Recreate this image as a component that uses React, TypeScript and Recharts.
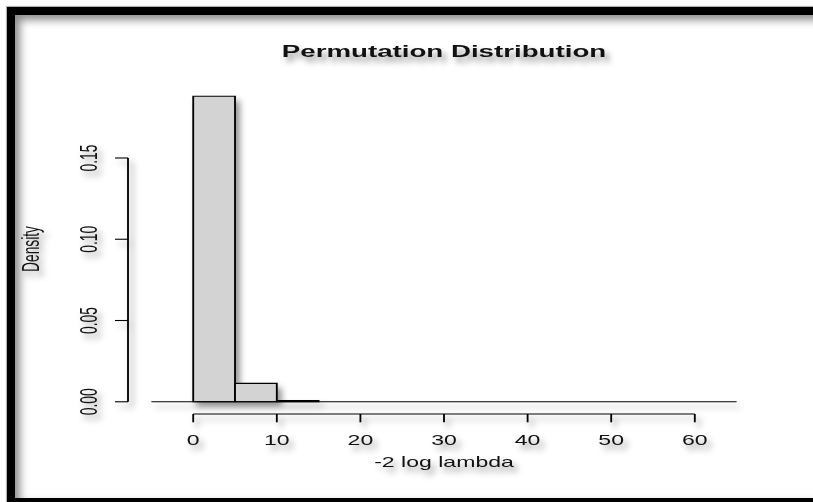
import React from "react";
import { Bar, ComposedChart, ReferenceLine, XAxis, YAxis } from "recharts";

// histogram bins: left edges (width 5) and densities
const BIN_LEFT = [-5, 0, 5, 10, 15, 20, 25, 30, 35, 40, 45, 50, 55, 60];
const BIN_WIDTH = 5;
const DENSITY = [0, 0.188, 0.0113, 0.0007, 0, 0, 0, 0, 0, 0, 0, 0, 0, 0];

const X_TICKS = [0, 10, 20, 30, 40, 50, 60];
const Y_TICKS = [0, 0.05, 0.1, 0.15];

const TITLE = "Permutation Distribution";
const X_LABEL = "-2 log lambda";
const Y_LABEL = "Density";

const data = BIN_LEFT.map((left, i) => ({
  bin: String(left),
  mid: left + BIN_WIDTH / 2,
  density: DENSITY[i],
}));

// the plot is drawn narrow and stretched sideways afterwards
const STRETCH = 1.672;
const W = 813;
const H = 502;
const CW = W / STRETCH;
const UNIT = 5; // chart px per x unit

const lo = BIN_LEFT[0];
const hi = BIN_LEFT[BIN_LEFT.length - 1] + BIN_WIDTH;
const span = hi - lo;
const X_DOMAIN: [number, number] = [lo - 0.04 * span, hi + 0.04 * span];
const yMax = Math.max(...DENSITY);
const Y_DOMAIN: [number, number] = [-0.04 * yMax, 1.04 * yMax];

const PLOT_LEFT = 76.56;
const PLOT_TOP = 84;
const PLOT_H = 330;
const PLOT_W = (X_DOMAIN[1] - X_DOMAIN[0]) * UNIT;
const Y_AXIS_W = 60;
const X_AXIS_H = 40;
const BIN_PAD_L = (lo - X_DOMAIN[0]) * UNIT;
const BIN_PAD_R = (X_DOMAIN[1] - hi) * UNIT;

const FONT = '"Liberation Sans", Arial, Helvetica, sans-serif';
const INK = "#000";
const TEXT = "#111";
const LW = 1.1;

const XTick = ({ x, y, payload }: any) => (
  <text
    x={x}
    y={y}
    dy="0.72em"
    textAnchor="middle"
    fontSize={13.8}
    fontFamily={FONT}
    fill={TEXT}
  >
    {payload.value}
  </text>
);

const YTick = ({ x, y, payload }: any) => (
  <text
    x={x}
    y={y}
    transform={`rotate(-90 ${x} ${y})`}
    textAnchor="middle"
    fontSize={13.8}
    fontFamily={FONT}
    fill={TEXT}
  >
    {Number(payload.value).toFixed(2)}
  </text>
);

const Histogram = () => (
  <ComposedChart
    width={CW}
    height={H}
    data={data}
    barCategoryGap={0}
    barGap={0}
    margin={{
      top: PLOT_TOP,
      left: PLOT_LEFT - Y_AXIS_W,
      right: CW - PLOT_LEFT - PLOT_W,
      bottom: H - PLOT_TOP - PLOT_H - X_AXIS_H,
    }}
  >
    {/* band axis for the bins, kept out of the way on top */}
    <XAxis
      xAxisId="bins"
      dataKey="bin"
      type="category"
      orientation="top"
      hide
      padding={{ left: BIN_PAD_L, right: BIN_PAD_R }}
    />
    <XAxis
      xAxisId="num"
      dataKey="mid"
      type="number"
      domain={X_DOMAIN}
      ticks={X_TICKS}
      allowDataOverflow
      axisLine={false}
      tickLine={{ stroke: INK, strokeWidth: LW }}
      tickSize={8.3}
      tickMargin={12.7}
      height={X_AXIS_H}
      tick={XTick}
      interval={0}
    />
    <YAxis
      type="number"
      domain={Y_DOMAIN}
      ticks={Y_TICKS}
      allowDataOverflow
      axisLine={false}
      tickLine={{ stroke: INK, strokeWidth: LW }}
      tickSize={7.8}
      tickMargin={10.76}
      width={Y_AXIS_W}
      tick={YTick}
      interval={0}
    />
    <Bar
      xAxisId="bins"
      dataKey="density"
      fill="#d3d3d3"
      stroke={INK}
      strokeWidth={LW}
      isAnimationActive={false}
    />
    {/* zero line under the bins */}
    <ReferenceLine
      xAxisId="num"
      segment={[
        { x: lo, y: 0 },
        { x: hi, y: 0 },
      ]}
      stroke={INK}
      strokeWidth={LW}
      ifOverflow="visible"
    />
    {/* axis lines only span the tick range */}
    <ReferenceLine
      xAxisId="num"
      segment={[
        { x: X_TICKS[0], y: Y_DOMAIN[0] },
        { x: X_TICKS[X_TICKS.length - 1], y: Y_DOMAIN[0] },
      ]}
      stroke={INK}
      strokeWidth={LW}
      ifOverflow="visible"
    />
    <ReferenceLine
      xAxisId="num"
      segment={[
        { x: X_DOMAIN[0], y: Y_TICKS[0] },
        { x: X_DOMAIN[0], y: Y_TICKS[Y_TICKS.length - 1] },
      ]}
      stroke={INK}
      strokeWidth={LW}
      ifOverflow="visible"
    />
  </ComposedChart>
);

export default function App() {
  const cx = PLOT_LEFT + PLOT_W / 2;
  const cy = PLOT_TOP + PLOT_H / 2;
  return (
    <div
      style={{
        position: "absolute",
        left: 0,
        top: 0,
        width: W,
        height: H,
        overflow: "hidden",
        background: "#fff",
      }}
    >
      <div
        style={{
          position: "absolute",
          left: 7,
          top: 7,
          width: 840,
          height: 499,
          boxSizing: "border-box",
          border: "8px solid #000",
          boxShadow: "inset 5px 5px 9px rgba(0,0,0,0.45), 0 0 1px 1px #b5b5b5",
        }}
      />
      <div
        style={{
          position: "absolute",
          left: 0,
          top: 0,
          width: W,
          height: H,
          filter: "drop-shadow(4px 5px 3px rgba(0,0,0,0.42))",
        }}
      >
        <div
          style={{
            position: "absolute",
            left: 0,
            top: 0,
            width: CW,
            height: H,
            transform: `scaleX(${STRETCH})`,
            transformOrigin: "0 0",
          }}
        >
          <Histogram />
          <svg
            width={CW}
            height={H}
            style={{ position: "absolute", left: 0, top: 0, pointerEvents: "none" }}
          >
            <text
              x={cx}
              y={57}
              textAnchor="middle"
              fontSize={16.56}
              fontWeight="bold"
              fontFamily={FONT}
              fill={TEXT}
            >
              {TITLE}
            </text>
            <text
              x={cx}
              y={467.5}
              textAnchor="middle"
              fontSize={13.8}
              fontFamily={FONT}
              fill={TEXT}
            >
              {X_LABEL}
            </text>
            <text
              x={23.4}
              y={cy}
              transform={`rotate(-90 23.4 ${cy})`}
              textAnchor="middle"
              fontSize={13.8}
              fontFamily={FONT}
              fill={TEXT}
            >
              {Y_LABEL}
            </text>
          </svg>
        </div>
      </div>
    </div>
  );
}
